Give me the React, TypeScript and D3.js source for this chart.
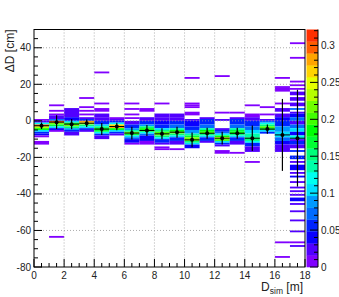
import React, { useEffect, useRef } from "react";
import * as d3 from "d3";

// 2D histogram cells per D_sim bin (1 m wide): [yLow, yHigh, fraction]
const bin00 = [[0, 1, 0.01], [-1, 0, 0.03], [-2, -1, 0.12], [-3, -2, 0.3], [-4, -3, 0.24], [-5, -4, 0.18], [-6, -5, 0.1], [-7, -6, 0.06], [-8, -7, 0.04], [-9, -8, 0.01], [-13, -11, 0.01]];
const bin01 = [[8, 9, 0.01], [5, 6, 0.01], [3, 4, 0.01], [1, 3, 0.03], [0, 1, 0.08], [-1, 0, 0.3], [-2, -1, 0.22], [-3, -2, 0.17], [-4, -3, 0.11], [-5, -4, 0.04], [-6, -5, 0.01], [-64, -63, 0.01]];
const bin02 = [[2, 7, 0.02], [0, 2, 0.04], [-1, 0, 0.1], [-2, -1, 0.18], [-3, -2, 0.22], [-4, -3, 0.16], [-5, -4, 0.09], [-6, -5, 0.05], [-8, -6, 0.02]];
const bin03 = [[12, 13, 0.01], [7, 8, 0.01], [5, 6, 0.01], [3, 4, 0.01], [1, 2, 0.02], [0, 1, 0.05], [-1, 0, 0.28], [-2, -1, 0.23], [-3, -2, 0.16], [-4, -3, 0.1], [-5, -4, 0.05], [-6, -5, 0.02]];
const bin04 = [[26, 27, 0.01], [9, 10, 0.01], [5, 7, 0.01], [2, 4, 0.02], [0, 2, 0.03], [-2, 0, 0.05], [-3, -2, 0.1], [-4, -3, 0.15], [-5, -4, 0.19], [-6, -5, 0.17], [-7, -6, 0.12], [-8, -7, 0.06], [-10, -8, 0.02]];
const bin05 = [[1, 2, 0.01], [0, 1, 0.03], [-1, 0, 0.06], [-2, -1, 0.12], [-3, -2, 0.26], [-4, -3, 0.28], [-5, -4, 0.18], [-6, -5, 0.11], [-7, -6, 0.05], [-8, -7, 0.02]];
const bin06 = [[9, 10, 0.01], [6, 7, 0.01], [3, 4, 0.01], [1, 2, 0.01], [-2, 0, 0.03], [-4, -2, 0.05], [-5, -4, 0.09], [-6, -5, 0.14], [-7, -6, 0.21], [-8, -7, 0.17], [-9, -8, 0.11], [-10, -9, 0.07], [-12, -10, 0.04], [-13, -12, 0.01]];
const bin07 = [[5, 7, 0.01], [0, 2, 0.03], [-2, 0, 0.05], [-3, -2, 0.09], [-4, -3, 0.15], [-5, -4, 0.19], [-6, -5, 0.17], [-7, -6, 0.12], [-8, -7, 0.07], [-11, -8, 0.04], [-13, -11, 0.01]];
const bin08 = [[9, 10, 0.01], [2, 4, 0.02], [0, 2, 0.03], [-2, 0, 0.04], [-4, -2, 0.06], [-5, -4, 0.1], [-6, -5, 0.15], [-7, -6, 0.2], [-8, -7, 0.22], [-9, -8, 0.16], [-10, -9, 0.1], [-12, -10, 0.05], [-13, -12, 0.02], [-15, -14, 0.01], [-16, -15, 0.01]];
const bin09 = [[2, 4, 0.02], [0, 2, 0.03], [-2, 0, 0.05], [-4, -2, 0.08], [-5, -4, 0.14], [-6, -5, 0.19], [-7, -6, 0.21], [-8, -7, 0.15], [-9, -8, 0.1], [-11, -9, 0.05], [-13, -11, 0.02], [-16, -15, 0.01]];
const bin10 = [[23, 24, 0.01], [9, 10, 0.01], [8, 9, 0.01], [7, 8, 0.01], [3, 5, 0.01], [0, 1, 0.02], [-3, 0, 0.04], [-5, -3, 0.06], [-7, -5, 0.09], [-8, -7, 0.13], [-9, -8, 0.17], [-10, -9, 0.21], [-11, -10, 0.22], [-12, -11, 0.16], [-13, -12, 0.1], [-15, -13, 0.04]];
const bin11 = [[1, 2, 0.02], [-2, 1, 0.05], [-4, -2, 0.08], [-5, -4, 0.13], [-6, -5, 0.18], [-7, -6, 0.2], [-8, -7, 0.16], [-9, -8, 0.1], [-11, -9, 0.05], [-12, -11, 0.02]];
const bin12 = [[24, 25, 0.01], [4, 5, 0.01], [0, 1, 0.03], [-5, -4, 0.02], [-6, -5, 0.05], [-7, -6, 0.08], [-8, -7, 0.12], [-9, -8, 0.18], [-10, -9, 0.25], [-11, -10, 0.2], [-12, -11, 0.1], [-13, -12, 0.05], [-14, -13, 0.02], [-18, -16, 0.01]];
const bin13 = [[4, 5, 0.01], [1, 2, 0.02], [-2, 1, 0.05], [-4, -2, 0.08], [-5, -4, 0.13], [-6, -5, 0.17], [-7, -6, 0.19], [-8, -7, 0.16], [-9, -8, 0.1], [-11, -9, 0.05], [-13, -11, 0.02], [-18, -17, 0.01]];
const bin14 = [[8, 9, 0.01], [2, 4, 0.01], [0, 2, 0.03], [-3, 0, 0.05], [-5, -3, 0.07], [-7, -5, 0.1], [-9, -7, 0.14], [-11, -9, 0.16], [-12, -11, 0.12], [-14, -12, 0.06], [-17, -14, 0.02], [-23, -22, 0.01]];
const bin15 = [[7, 8, 0.01], [3, 4, 0.01], [0, 1, 0.03], [-1, 0, 0.08], [-2, -1, 0.12], [-3, -2, 0.16], [-4, -3, 0.2], [-5, -4, 0.17], [-6, -5, 0.1], [-7, -6, 0.05]];
const bin16 = [[23, 24, 0.01], [18, 19, 0.01], [16, 18, 0.01], [9, 10, 0.01], [5, 7, 0.02], [2, 4, 0.03], [0, 2, 0.04], [-3, 0, 0.06], [-6, -3, 0.09], [-9, -6, 0.11], [-11, -9, 0.07], [-13, -11, 0.04], [-17, -13, 0.02], [-67, -66, 0.01], [-75, -74, 0.01]];
const bin17 = [[42, 43, 0.01], [34, 35, 0.01], [21, 22, 0.01], [19, 20, 0.01], [17, 18, 0.01], [14, 16, 0.03], [11, 13, 0.02], [8, 10, 0.03], [6, 7, 0.07], [4, 5, 0.02], [2, 4, 0.04], [0, 2, 0.07], [-2, 0, 0.02], [-4, -2, 0.08], [-6, -4, 0.1], [-8, -6, 0.04], [-10, -8, 0.12], [-11, -10, 0.02], [-13, -11, 0.06], [-15, -13, 0.03], [-17, -16, 0.06], [-21, -19, 0.05], [-23, -22, 0.02], [-27, -24, 0.04], [-29, -28, 0.02], [-31, -30, 0.04], [-34, -33, 0.03], [-37, -36, 0.02], [-39, -38, 0.02], [-41, -40, 0.02], [-44, -42, 0.04], [-46, -45, 0.02], [-50, -49, 0.03], [-55, -54, 0.02], [-61, -60, 0.02], [-67, -66, 0.01], [-69, -68, 0.02]];
const columns = [bin00, bin01, bin02, bin03, bin04, bin05, bin06, bin07, bin08, bin09, bin10, bin11, bin12, bin13, bin14, bin15, bin16, bin17];

// profile (mean and error) per bin
const profileMean = [-2.7, -0.7, -1.8, -1.3, -4.5, -3.1, -6.7, -5.3, -7.1, -6.2, -10.4, -6.8, -9.5, -6.8, -9.5, -4.5, -7.7, -9.5];
const profileErr = [1.8, 3.8, 2.8, 2, 3.3, 2, 3.5, 3, 3, 3, 4, 3, 3.5, 3, 7, 2.5, 19.7, 26.5];

const xTicks = [0, 2, 4, 6, 8, 10, 12, 14, 16, 18];
const yTicks = [-80, -60, -40, -20, 0, 20, 40];
const zTicks = [0, 0.05, 0.1, 0.15, 0.2, 0.25, 0.3];

const W = 339;
const H = 297;
const ZMAX = 0.3216;
const NCONT = 20;
const FONT = "'Liberation Sans', Arial, Helvetica, sans-serif";

const App = () => {
  const svgRef = useRef<SVGSVGElement>(null);

  useEffect(() => {
    const svg = d3.select(svgRef.current);
    svg.selectAll("*").remove();

    const left = 34, right = 305, top = 29.5, bottom = 267;
    const x = d3.scaleLinear().domain([0, 18]).range([left, right]);
    const y = d3.scaleLinear().domain([-80, 50]).range([bottom, top]);

    // ROOT style rainbow palette, 50 colors, violet -> red
    const palette = d3.range(50).map((i) => d3.hsl(270 * (1 - i / 49), 1, 0.5).formatHex());
    const levelColor = (k: number) => palette[Math.floor(0.01 + k * (50 / NCONT))];
    const cellColor = (v: number) => {
      const k = Math.max(0, Math.min(NCONT - 1, Math.floor((v / ZMAX) * NCONT)));
      return levelColor(k);
    };

    svg.append("rect").attr("width", W).attr("height", H).attr("fill", "#fff");

    // cells
    const g = svg.append("g");
    columns.forEach((col, i) => {
      g.selectAll(null)
        .data(col)
        .enter()
        .append("rect")
        .attr("x", x(i))
        .attr("width", x(i + 1) - x(i))
        .attr("y", (d) => y(d[1]))
        .attr("height", (d) => y(d[0]) - y(d[1]))
        .attr("fill", (d) => cellColor(d[2]));
    });

    // grid
    const grid = svg.append("g").attr("stroke", "#999").attr("stroke-width", 0.8).attr("stroke-dasharray", "1,2");
    xTicks.slice(1, -1).forEach((t) => {
      grid.append("line").attr("x1", x(t)).attr("x2", x(t)).attr("y1", top).attr("y2", bottom);
    });
    yTicks.slice(1).forEach((t) => {
      grid.append("line").attr("x1", left).attr("x2", right).attr("y1", y(t)).attr("y2", y(t));
    });

    // profile
    const prof = svg.append("g").attr("stroke", "#000").attr("fill", "#000");
    profileMean.forEach((m, i) => {
      const cx = x(i + 0.5);
      prof.append("line").attr("x1", x(i)).attr("x2", x(i + 1)).attr("y1", y(m)).attr("y2", y(m)).attr("stroke-width", 1);
      prof.append("line").attr("x1", cx).attr("x2", cx)
        .attr("y1", Math.max(top, y(m + profileErr[i]))).attr("y2", y(m - profileErr[i])).attr("stroke-width", 1.2);
      prof.append("circle").attr("cx", cx).attr("cy", y(m)).attr("r", 2).attr("stroke", "none");
    });

    // frame
    svg.append("rect").attr("x", left).attr("y", top).attr("width", right - left).attr("height", bottom - top)
      .attr("fill", "none").attr("stroke", "#000").attr("stroke-width", 1);

    // ticks (inside)
    const ax = svg.append("g").attr("stroke", "#000").attr("stroke-width", 1);
    d3.range(0, 18.01, 0.5).forEach((t) => {
      const major = Math.abs(t % 2) < 1e-6;
      ax.append("line").attr("x1", x(t)).attr("x2", x(t)).attr("y1", bottom).attr("y2", bottom - (major ? 8 : 4));
    });
    d3.range(-80, 50.01, 5).forEach((t) => {
      const major = t % 20 === 0;
      ax.append("line").attr("x1", left).attr("x2", left + (major ? 8 : 4)).attr("y1", y(t)).attr("y2", y(t));
    });

    svg.append("g").selectAll("text").data(xTicks).enter().append("text")
      .attr("x", (d) => x(d)).attr("y", bottom + 12)
      .attr("text-anchor", "middle").attr("font-family", FONT).attr("font-size", 10).attr("fill", "#222")
      .text((d) => String(d));
    svg.append("g").selectAll("text").data(yTicks).enter().append("text")
      .attr("x", left - 3).attr("y", (d) => y(d) + 3.5)
      .attr("text-anchor", "end").attr("font-family", FONT).attr("font-size", 10).attr("fill", "#222")
      .text((d) => String(d));

    // axis titles
    svg.append("text")
      .attr("transform", `translate(14,${top}) rotate(-90)`)
      .attr("text-anchor", "end").attr("font-family", FONT).attr("font-size", 12).attr("fill", "#222")
      .text("ΔD [cm]");
    const xt = svg.append("text")
      .attr("x", right - 2).attr("y", 290.5)
      .attr("text-anchor", "end").attr("font-family", FONT).attr("font-size", 12).attr("fill", "#222");
    xt.append("tspan").text("D");
    xt.append("tspan").attr("font-size", 8.5).attr("dy", 3).text("sim");
    xt.append("tspan").attr("dy", -3).text(" [m]");

    // color bar
    const z = d3.scaleLinear().domain([0, ZMAX]).range([bottom, top]);
    const zx0 = 306.5, zx1 = 318;
    d3.range(NCONT).forEach((k) => {
      const v0 = (k * ZMAX) / NCONT, v1 = ((k + 1) * ZMAX) / NCONT;
      svg.append("rect").attr("x", zx0).attr("width", zx1 - zx0)
        .attr("y", z(v1)).attr("height", z(v0) - z(v1) + 0.3).attr("fill", levelColor(k));
    });
    const zax = svg.append("g").attr("stroke", "#000").attr("stroke-width", 1);
    zax.append("line").attr("x1", zx1).attr("x2", zx1).attr("y1", top).attr("y2", bottom);
    d3.range(0, ZMAX, 0.01).forEach((t) => {
      const major = Math.abs((t / 0.05) - Math.round(t / 0.05)) < 1e-6;
      zax.append("line").attr("x1", zx1).attr("x2", zx1 - (major ? 8 : 4)).attr("y1", z(t)).attr("y2", z(t));
    });
    svg.append("g").selectAll("text").data(zTicks).enter().append("text")
      .attr("x", zx1 + 3).attr("y", (d) => z(d) + 3.5)
      .attr("font-family", FONT).attr("font-size", 10).attr("fill", "#222")
      .text((d) => String(d));
  }, []);

  return (
    <div style={{ position: "fixed", left: 0, top: 0 }}>
      <svg ref={svgRef} width={W} height={H} style={{ display: "block" }} />
    </div>
  );
};

export default App;
